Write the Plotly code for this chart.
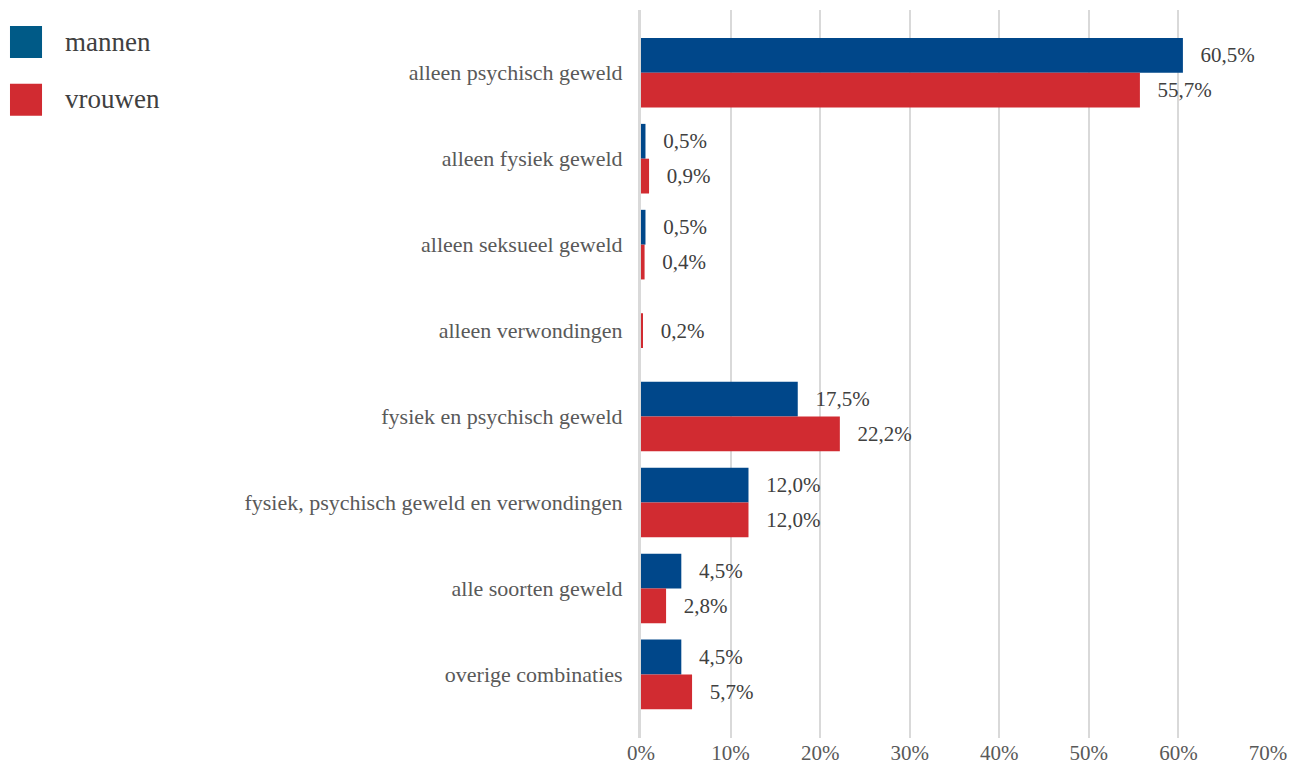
import plotly.graph_objects as go

categories = [
    "alleen psychisch geweld",
    "alleen fysiek geweld",
    "alleen seksueel geweld",
    "alleen verwondingen",
    "fysiek en psychisch geweld",
    "fysiek, psychisch geweld en verwondingen",
    "alle soorten geweld",
    "overige combinaties",
]
series_names = ["mannen", "vrouwen"]
mannen = [60.5, 0.5, 0.5, None, 17.5, 12.0, 4.5, 4.5]
vrouwen = [55.7, 0.9, 0.4, 0.2, 22.2, 12.0, 2.8, 5.7]
x_ticks = [0, 10, 20, 30, 40, 50, 60, 70]

BLUE = "#00478a"
BLUE_LEG = "#005a87"
RED = "#d12b31"
FONT = "Liberation Serif, serif"
SP = "\u2002\u2009"


def fmt(v):
    return "" if v is None else SP + f"{v:.1f}".replace(".", ",") + "%"


# categories without a mannen value are drawn centred
paired = [m is not None for m in mannen]
v_pair = [v if p else None for v, p in zip(vrouwen, paired)]
v_single = [v if not p else None for v, p in zip(vrouwen, paired)]

W = 0.405
label_font = dict(family=FONT, size=21, color="#404040")
fig = go.Figure()
for vals, col, off, nm in [
    (mannen, BLUE, -W, series_names[0]),
    (v_pair, RED, 0, series_names[1]),
    (v_single, RED, -W / 2, series_names[1]),
]:
    fig.add_trace(go.Bar(
        y=categories, x=vals, orientation="h", name=nm,
        marker_color=col, marker_line_width=0, width=W, offset=off,
        text=[fmt(v) for v in vals], textposition="outside",
        textfont=label_font, cliponaxis=False, showlegend=False,
    ))

# legend drawn as large squares with labels
leg_colors = [BLUE_LEG, RED]
leg_rows = [(0.978, 0.934, 0.956), (0.8986, 0.8548, 0.878)]
for nm, col, (yt, yb, yc) in zip(series_names, leg_colors, leg_rows):
    fig.add_shape(type="rect", xref="paper", yref="paper",
                  x0=-1.0064, x1=-0.9553, y0=yb, y1=yt,
                  fillcolor=col, line_width=0)
    fig.add_annotation(xref="paper", yref="paper", x=-0.9219, y=yc,
                       text=nm, showarrow=False, xanchor="left", yanchor="middle",
                       font=dict(family=FONT, size=27, color="#404040"))

# page body has an 8px default margin, so the figure is sized to fit
fig.update_layout(
    width=1291, height=759,
    margin=dict(l=633, r=31, t=2, b=19),
    paper_bgcolor="white", plot_bgcolor="white",
    barmode="overlay",
    font=dict(family=FONT, color="#595959"),
    xaxis=dict(
        range=[0, 70], tickvals=x_ticks,
        ticktext=[f"{t}%" for t in x_ticks],
        showgrid=True, gridcolor="#d9d9d9", gridwidth=2,
        zeroline=False, showline=False, ticks="",
        tickfont=dict(family=FONT, size=21, color="#595959"),
    ),
    yaxis=dict(
        range=[7.74, -0.73], showgrid=False, zeroline=False,
        showline=True, linecolor="#d9d9d9", linewidth=3, ticks="",
        ticksuffix="  ",
        tickfont=dict(family=FONT, size=22, color="#595959"),
    ),
)

fig.write_html("out.html")
